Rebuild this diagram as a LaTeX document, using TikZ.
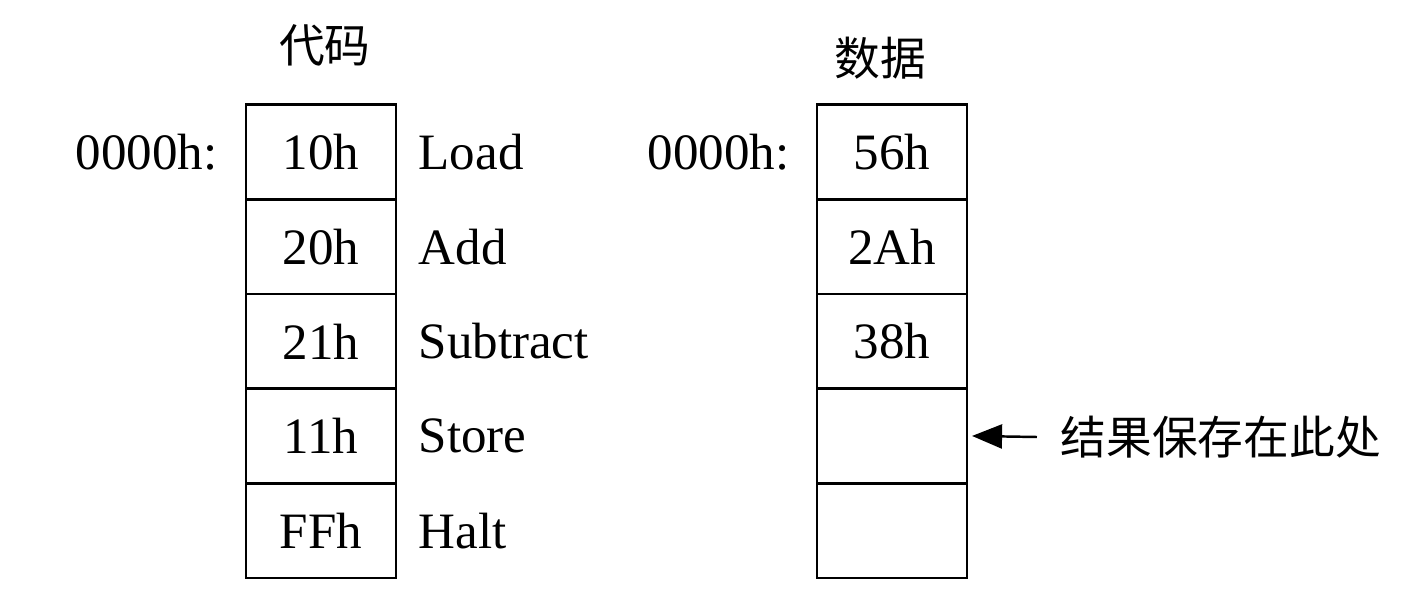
\documentclass[tikz,border=0pt]{standalone}
\usepackage{fontspec}
\setmainfont{Liberation Serif}
\newfontfamily\cjk{Noto Sans CJK SC}
\usetikzlibrary{positioning, arrows.meta}

\begin{document}
\begin{tikzpicture}[x=0.01cm, y=-0.01cm,
    cell/.style={draw, line width=0.8pt, outer sep=0pt, inner sep=0pt,
      minimum width=1.5cm, minimum height=0.946cm,
      font=\fontsize{14.5}{17}\selectfont},
    lbl/.style={inner sep=0pt, font=\fontsize{14.5}{17}\selectfont},
    cjklbl/.style={inner sep=0pt, font=\cjk\fontsize{13}{15}\selectfont}]
    \useasboundingbox (0,0) rectangle (1426,606);

    % code column
    \node[cell] (code1) at (321,152) {10h};
    \node[cell, below=0pt of code1] (code2) {20h};
    \node[cell, below=0pt of code2] (code3) {21h};
    \node[cell, below=0pt of code3] (code4) {11h};
    \node[cell, below=0pt of code4] (code5) {FFh};

    \node[lbl, right=0.22cm of code1] (load) {Load};
    \node[lbl, right=0.22cm of code2] (add) {Add};
    \node[lbl, right=0.22cm of code3] (sub) {Subtract};
    \node[lbl, right=0.22cm of code4] (store) {Store};
    \node[lbl, right=0.22cm of code5] (halt) {Halt};

    \node[lbl, left=0.28cm of code1] (codeaddr) {0000h:};
    \node[cjklbl] (codetitle) at (325,45) {代码};

    % data column
    \node[cell] (data1) at (892,152) {56h};
    \node[cell, below=0pt of data1] (data2) {2Ah};
    \node[cell, below=0pt of data2] (data3) {38h};
    \node[cell, below=0pt of data3] (data4) {};
    \node[cell, below=0pt of data4] (data5) {};

    \node[lbl, left=0.27cm of data1] (dataaddr) {0000h:};
    \node[cjklbl] (datatitle) at (880,58) {数据};

    % result note
    \node[cjklbl, anchor=west] (note) at (1060,437) {结果保存在此处};
    \draw[line width=0.7pt, -{Triangle[length=0.3cm, width=0.24cm]}]
        ([xshift=-0.23cm]note.west) -- ([xshift=0.05cm]data4.east);
\end{tikzpicture}
\end{document}
